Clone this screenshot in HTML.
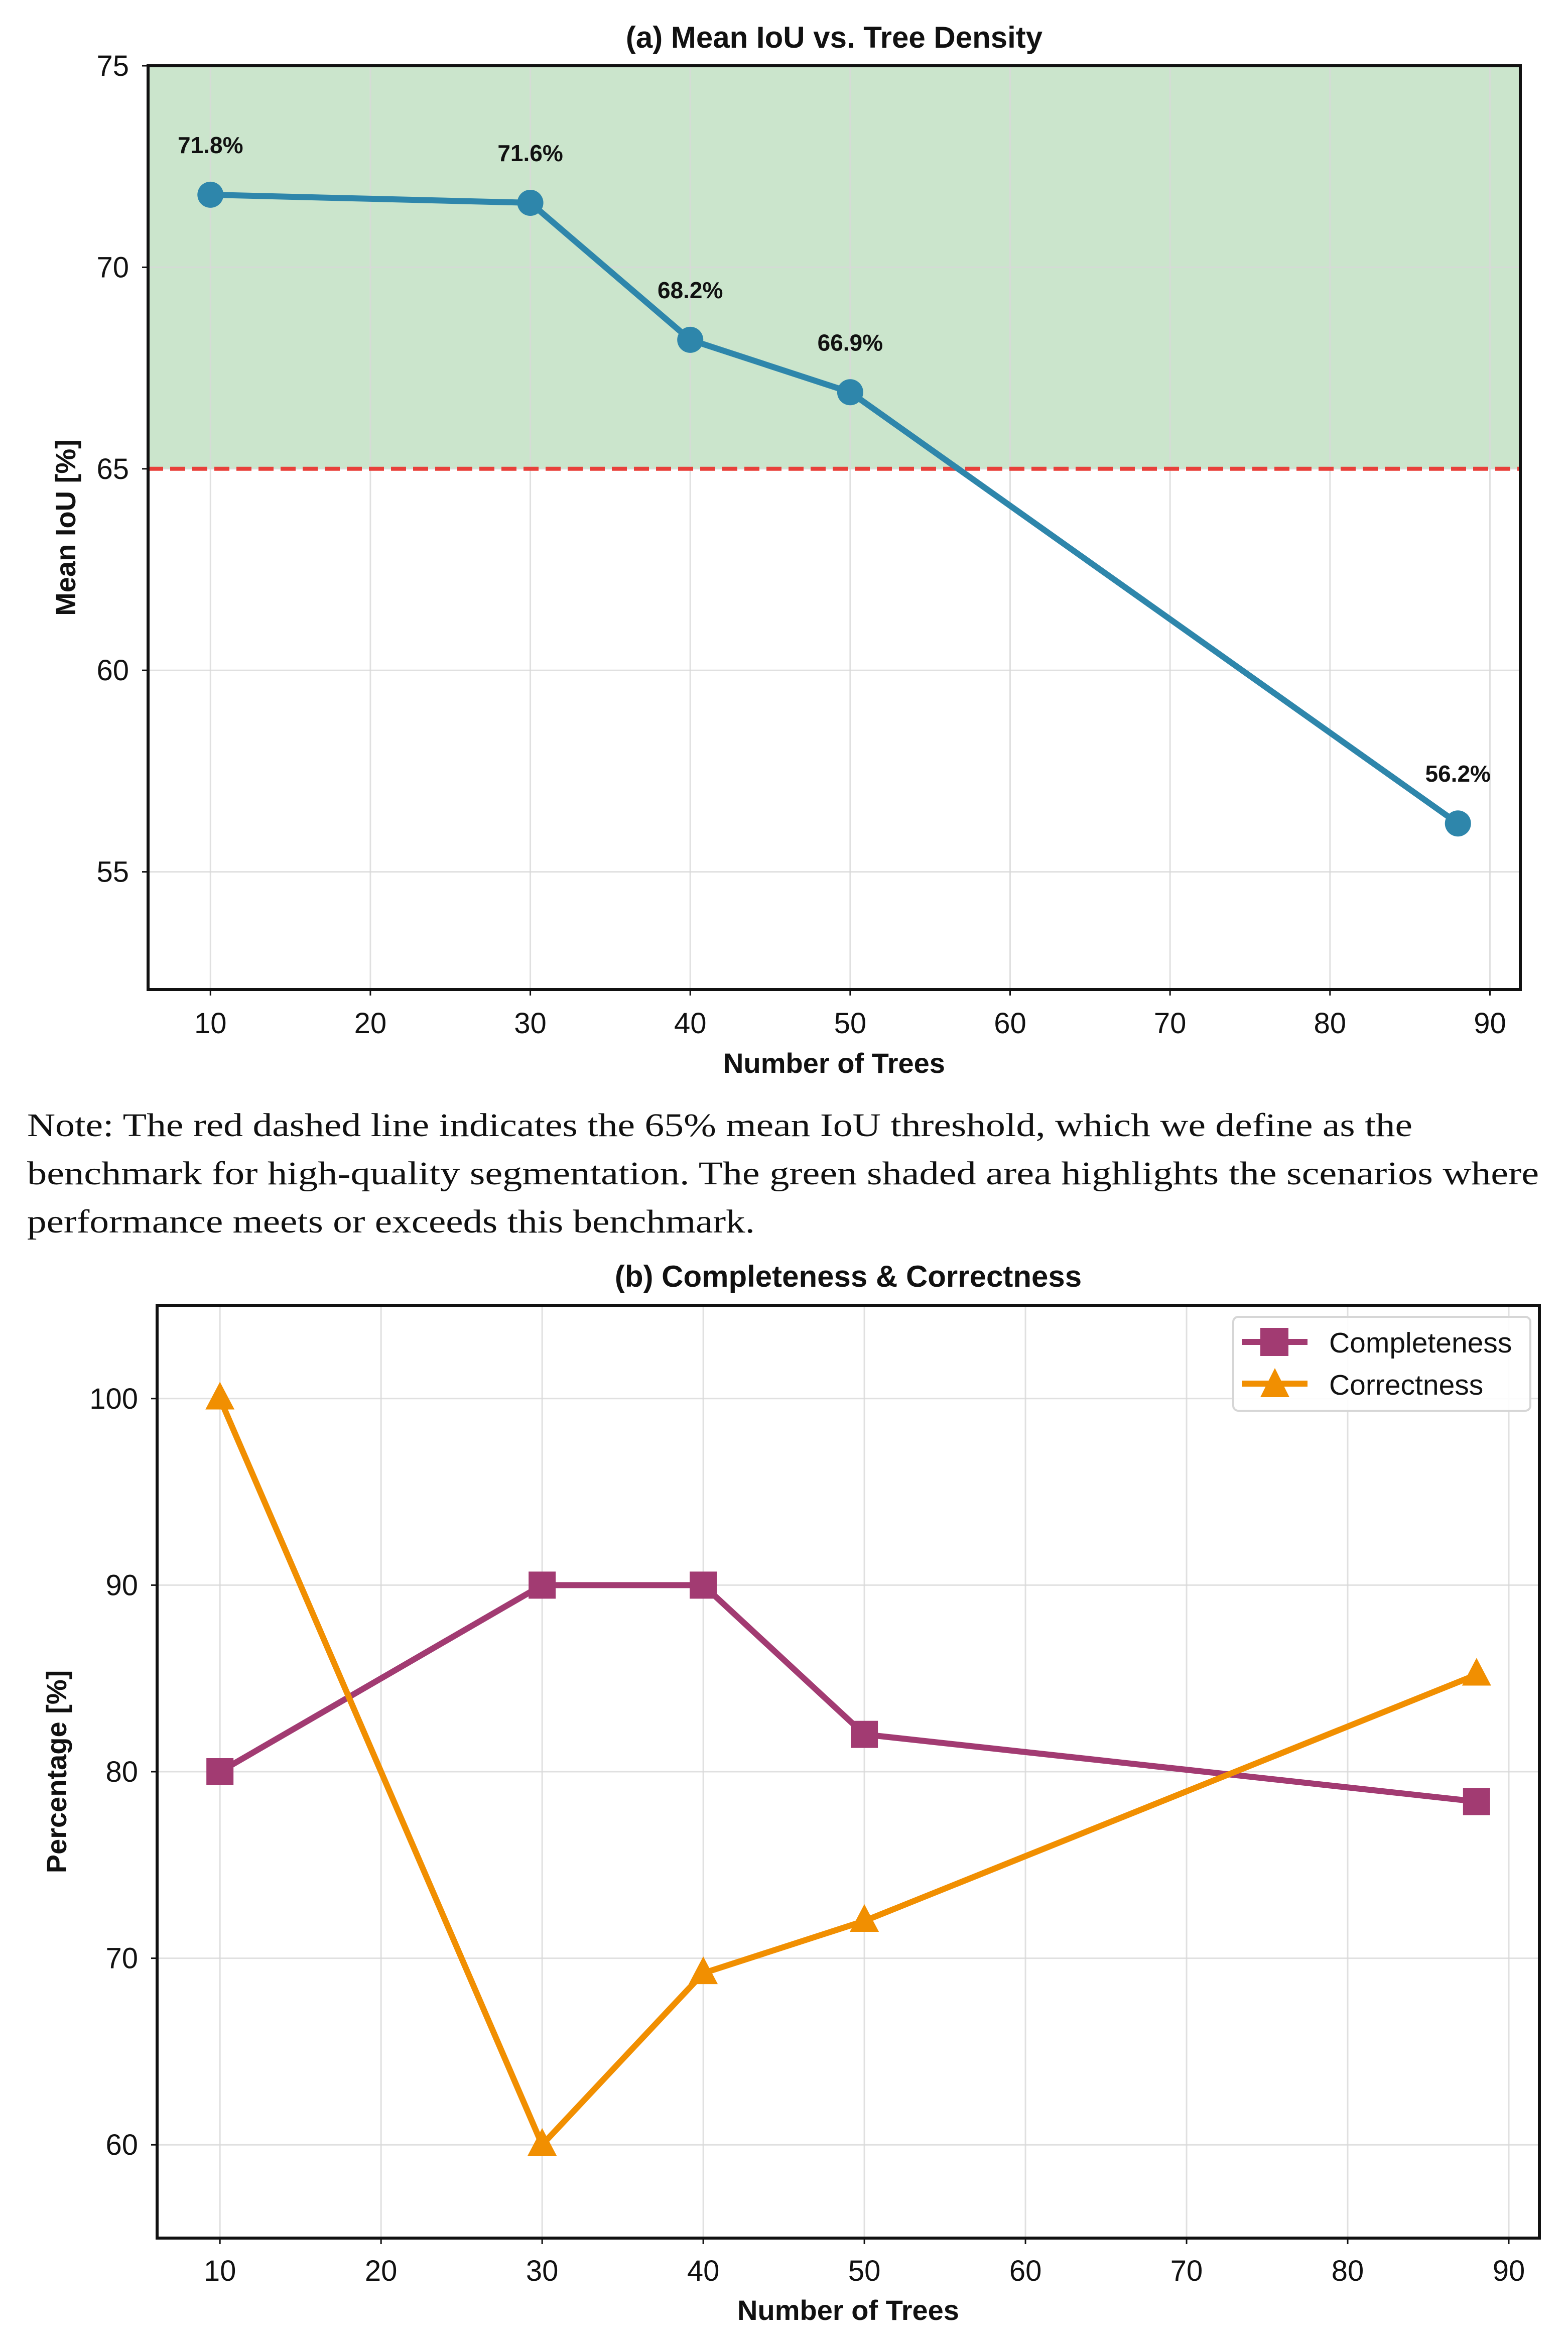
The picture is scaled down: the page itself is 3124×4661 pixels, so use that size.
<!DOCTYPE html>
<html><head><meta charset="utf-8"><style>
html,body{margin:0;padding:0;background:#fff;}
svg{display:block;}
text{font-family:"Liberation Sans",sans-serif;}
</style></head><body>
<svg id="root" width="3124" height="4661" viewBox="0 0 3124 4661" xmlns="http://www.w3.org/2000/svg">
<g id="chartA"></g>
<g font-size="66" fill="#111">
<text x="54" y="2263" textLength="2760" lengthAdjust="spacingAndGlyphs" style="font-family:'Liberation Serif',serif">Note: The red dashed line indicates the 65% mean IoU threshold, which we define as the</text>
<text x="54" y="2359" textLength="3012" lengthAdjust="spacingAndGlyphs" style="font-family:'Liberation Serif',serif">benchmark for high-quality segmentation. The green shaded area highlights the scenarios where</text>
<text x="54" y="2455" textLength="1450" lengthAdjust="spacingAndGlyphs" style="font-family:'Liberation Serif',serif">performance meets or exceeds this benchmark.</text>
</g>
<g id="chartB"></g>
</svg>
<script>
const xTrees = [10, 30, 40, 50, 88];
const iouValues = [71.8, 71.6, 68.2, 66.9, 56.2];
const iouLabels = ["71.8%", "71.6%", "68.2%", "66.9%", "56.2%"];
const completeness = [80, 90, 90, 82, 78.4];
const correctness = [100, 60, 69.2, 72, 85.2];
const xTicks = [10, 20, 30, 40, 50, 60, 70, 80, 90];
const yTicksA = [55, 60, 65, 70, 75];
const yTicksB = [60, 70, 80, 90, 100];
const thresholdA = 65;

const NS = "http://www.w3.org/2000/svg";
function mk(parent, tag, attrs, txt) {
  const e = document.createElementNS(NS, tag);
  for (const k in attrs) e.setAttribute(k, attrs[k]);
  if (txt !== undefined) e.textContent = txt;
  parent.appendChild(e);
  return e;
}
function axes(box, xr, yr) {
  const sx = v => box.l + (v - xr[0]) / (xr[1] - xr[0]) * (box.r - box.l);
  const sy = v => box.b - (v - yr[0]) / (yr[1] - yr[0]) * (box.b - box.t);
  return [sx, sy];
}
const TF = 58;

// ---------- Chart A ----------
(function () {
  const g = document.getElementById("chartA");
  const box = { l: 295, r: 3029, t: 131, b: 1971 };
  const [sx, sy] = axes(box, [6.1, 91.9], [52.08, 75]);
  const fill = mk(g, "rect", { x: box.l, y: sy(75), width: box.r - box.l, height: sy(thresholdA) - sy(75), fill: "#cbe5cc" });
  
  
  xTicks.forEach(v => {
    const l = mk(g, "line", { x1: sx(v), x2: sx(v), y1: box.t, y2: box.b, stroke: "#d9d9d9", "stroke-width": 3, opacity: 0.8 });
    
    
    const t = mk(g, "text", { x: sx(v), y: box.b + 87, "font-size": TF, "text-anchor": "middle", fill: "#111" }, String(v));
    
    
    mk(g, "line", { x1: sx(v), x2: sx(v), y1: box.b, y2: box.b + 12, stroke: "#111", "stroke-width": 3 });
  });
  yTicksA.forEach(v => {
    const l = mk(g, "line", { x1: box.l, x2: box.r, y1: sy(v), y2: sy(v), stroke: "#d9d9d9", "stroke-width": 3, opacity: 0.8 });
    
    
    const t = mk(g, "text", { x: box.l - 38, y: sy(v) + 20, "font-size": TF, "text-anchor": "end", fill: "#111" }, String(v));
    
    
    mk(g, "line", { x1: box.l - 12, x2: box.l, y1: sy(v), y2: sy(v), stroke: "#111", "stroke-width": 3 });
  });
  const th = mk(g, "line", { x1: box.l, x2: box.r, y1: sy(thresholdA), y2: sy(thresholdA), stroke: "#e8403a", "stroke-width": 8, "stroke-dasharray": "30 14" });
  
  
  const pts = xTrees.map((x, i) => sx(x) + "," + sy(iouValues[i])).join(" ");
  const pl = mk(g, "polyline", { points: pts, fill: "none", stroke: "#2e86ab", "stroke-width": 12, "stroke-linejoin": "round" });
  
  
  xTrees.forEach((x, i) => {
    const c = mk(g, "circle", { cx: sx(x), cy: sy(iouValues[i]), r: 26, fill: "#2e86ab" });
    
    
    const t = mk(g, "text", { x: sx(x), y: sy(iouValues[i]) - 83, "font-size": 46, "font-weight": "bold", "text-anchor": "middle", fill: "#111" }, iouLabels[i]);
    
    
  });
  const fr = mk(g, "rect", { x: box.l, y: box.t, width: box.r - box.l, height: box.b - box.t, fill: "none", stroke: "#111", "stroke-width": 6 });
  
  
  const ti = mk(g, "text", { x: (box.l + box.r) / 2, y: 95, "font-size": 60, "font-weight": "bold", "text-anchor": "middle", fill: "#111" }, "(a) Mean IoU vs. Tree Density");
  
  
  const xl = mk(g, "text", { x: (box.l + box.r) / 2, y: 2137, "font-size": 56, "font-weight": "bold", "text-anchor": "middle", fill: "#111" }, "Number of Trees");
  
  
  const yl = mk(g, "text", { x: 0, y: 0, "font-size": 56, "font-weight": "bold", "text-anchor": "middle", fill: "#111", transform: "translate(150,1051) rotate(-90)" }, "Mean IoU [%]");
  
  
})();

// ---------- Chart B ----------
(function () {
  const g = document.getElementById("chartB");
  const box = { l: 313, r: 3067, t: 2600, b: 4458 };
  const [sx, sy] = axes(box, [6.1, 91.9], [55, 105]);
  xTicks.forEach(v => {
    const l = mk(g, "line", { x1: sx(v), x2: sx(v), y1: box.t, y2: box.b, stroke: "#d9d9d9", "stroke-width": 3, opacity: 0.8 });
    
    
    const t = mk(g, "text", { x: sx(v), y: box.b + 85, "font-size": TF, "text-anchor": "middle", fill: "#111" }, String(v));
    
    
    mk(g, "line", { x1: sx(v), x2: sx(v), y1: box.b, y2: box.b + 12, stroke: "#111", "stroke-width": 3 });
  });
  yTicksB.forEach(v => {
    const l = mk(g, "line", { x1: box.l, x2: box.r, y1: sy(v), y2: sy(v), stroke: "#d9d9d9", "stroke-width": 3, opacity: 0.8 });
    
    
    const t = mk(g, "text", { x: box.l - 38, y: sy(v) + 20, "font-size": TF, "text-anchor": "end", fill: "#111" }, String(v));
    
    
    mk(g, "line", { x1: box.l - 12, x2: box.l, y1: sy(v), y2: sy(v), stroke: "#111", "stroke-width": 3 });
  });
  function sq(cx, cy, s, col) { return mk(g, "rect", { x: cx - s, y: cy - s, width: 2 * s, height: 2 * s, fill: col }); }
  function tri(cx, cy, s, col) { return mk(g, "polygon", { points: `${cx},${cy - s * 1.15} ${cx - s},${cy + s * 0.75} ${cx + s},${cy + s * 0.75}`, fill: col }); }
  const pc = mk(g, "polyline", { points: xTrees.map((x, i) => sx(x) + "," + sy(completeness[i])).join(" "), fill: "none", stroke: "#a23b72", "stroke-width": 12, "stroke-linejoin": "round" });
  
  
  const po = mk(g, "polyline", { points: xTrees.map((x, i) => sx(x) + "," + sy(correctness[i])).join(" "), fill: "none", stroke: "#f18f01", "stroke-width": 12, "stroke-linejoin": "round" });
  
  
  xTrees.forEach((x, i) => {
    const m = sq(sx(x), sy(completeness[i]), 27, "#a23b72");
    
    
    const n = tri(sx(x), sy(correctness[i]), 29, "#f18f01");
    
    
  });
  const lg = mk(g, "g", {});
  
  
  mk(lg, "rect", { x: 2457, y: 2623, width: 592, height: 187, rx: 10, fill: "#fff", "fill-opacity": 0.9, stroke: "#d6d6d6", "stroke-width": 4 });
  const e1 = mk(lg, "g", {});
  
  
  mk(e1, "line", { x1: 2474, x2: 2605, y1: 2673, y2: 2673, stroke: "#a23b72", "stroke-width": 12 });
  mk(e1, "rect", { x: 2511, y: 2645, width: 56, height: 56, fill: "#a23b72" });
  mk(e1, "text", { x: 2648, y: 2694, "font-size": 57, fill: "#111" }, "Completeness");
  const e2 = mk(lg, "g", {});
  
  
  mk(e2, "line", { x1: 2474, x2: 2605, y1: 2756, y2: 2756, stroke: "#f18f01", "stroke-width": 12 });
  mk(e2, "polygon", { points: "2540,2725 2511,2783 2569,2783", fill: "#f18f01" });
  mk(e2, "text", { x: 2648, y: 2778, "font-size": 57, fill: "#111" }, "Correctness");
  const fr = mk(g, "rect", { x: box.l, y: box.t, width: box.r - box.l, height: box.b - box.t, fill: "none", stroke: "#111", "stroke-width": 6 });
  
  
  const ti = mk(g, "text", { x: (box.l + box.r) / 2, y: 2563, "font-size": 60, "font-weight": "bold", "text-anchor": "middle", fill: "#111" }, "(b) Completeness & Correctness");
  
  
  const xl = mk(g, "text", { x: (box.l + box.r) / 2, y: 4621, "font-size": 56, "font-weight": "bold", "text-anchor": "middle", fill: "#111" }, "Number of Trees");
  
  
  const yl = mk(g, "text", { x: 0, y: 0, "font-size": 56, "font-weight": "bold", "text-anchor": "middle", fill: "#111", transform: "translate(132,3529) rotate(-90)" }, "Percentage [%]");
  
  
})();
</script>
</body></html>
